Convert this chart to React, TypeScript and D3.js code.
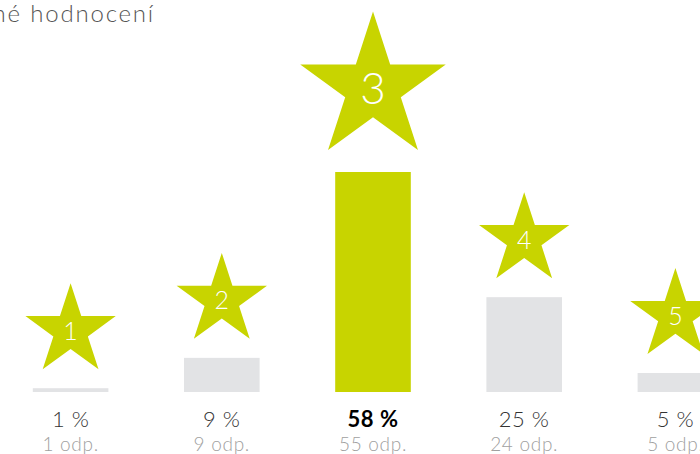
import React from 'react';
import * as d3 from 'd3';

// rating categories and their results
const ratings = ['1', '2', '3', '4', '5'];
const percents = [1, 9, 58, 25, 5];
const answers = [1, 9, 55, 24, 5];
const highlighted = '3';
const title = 'Průměrné hodnocení';

const width = 700;
const height = 454;
const lime = '#c8d400';
const grey = '#e2e3e5';

const App: React.FC = () => {
    const xScale = d3.scaleBand<string>()
        .domain(ratings)
        .range([-5, 751])
        .paddingInner(0.5)
        .paddingOuter(0.25);

    const yScale = d3.scaleLinear()
        .domain([0, 58])
        .range([392, 172]);

    const ka = 0.8908130915292852;
    const starPath = (r: number) => d3.symbol().type(d3.symbolStar).size((r * r) / ka)() || '';

    return (
        <svg width={width} height={height} style={{ position: 'absolute', left: 0, top: 0, fontFamily: 'Lato, sans-serif' }}>
            <text x={155} y={22} textAnchor="end" fontSize={24} fontWeight={300} fill="#555" letterSpacing={1.8}>{title}</text>
            {ratings.map((r, i) => {
                const x = xScale(r) as number;
                const cx = x + xScale.bandwidth() / 2;
                const top = yScale(percents[i]);
                const isHi = r === highlighted;
                const R = isHi ? 76.5 : 47.5;
                const gap = isHi ? 22 : 19;
                const cy = top - gap - R * Math.cos(Math.PI / 5);
                return (
                    <g key={r}>
                        <rect x={x} y={top} width={xScale.bandwidth()} height={yScale(0) - top} fill={isHi ? lime : grey} />
                        <path d={starPath(R)} transform={`translate(${cx},${cy})`} fill={lime} />
                        <text x={cx} y={cy} dy="0.36em" textAnchor="middle" fill="#fff" fontWeight={300} fontSize={isHi ? 44 : 25}>{r}</text>
                        <text x={cx} y={427} textAnchor="middle" fontSize={22} letterSpacing={0.5}
                            fontWeight={isHi ? 700 : 300} fill={isHi ? '#000' : '#333'}>{percents[i]} %</text>
                        <text x={cx} y={451} textAnchor="middle" fontSize={19} fontWeight={300} fill="#a0a0a0" letterSpacing={0.7}>{answers[i]} odp.</text>
                    </g>
                );
            })}
        </svg>
    );
};

export default App;
